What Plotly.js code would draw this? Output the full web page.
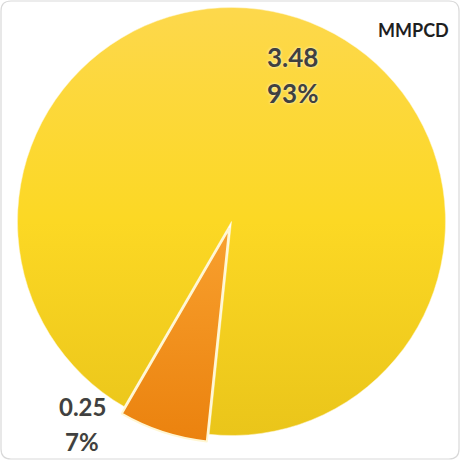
<!DOCTYPE html>
<html>
<head>
<meta charset="utf-8">
<script src="https://cdn.plot.ly/plotly-3.0.1.min.js"></script>
<style>
  html, body { margin: 0; padding: 0; background: #ffffff; }
  #chart { width: 461px; height: 461px; }
</style>
</head>
<body>
<div id="chart"></div>
<script>
// Gas volumes by stream (MMPCD)
const categories = ['Stream B', 'Stream A'];
const volumes = [0.25, 3.48];
const unitLabel = 'MMPCD';

const total = volumes.reduce((a, b) => a + b, 0);
const percents = volumes.map(v => Math.round(v / total * 100) + '%');

const labelFont = {
  family: 'Lato, "Open Sans", "Liberation Sans", sans-serif',
  size: 26,
  weight: 700,
  color: '#404040',
  shadow: '0px 0px 3px rgba(255,252,235,1)'
};
const smallFont = Object.assign({}, labelFont, {size: 24});

const trace = {
  type: 'pie',
  labels: categories,
  values: volumes,
  sort: false,
  direction: 'clockwise',
  rotation: 186,
  pull: [0.035, 0],
  textinfo: 'none',
  hoverinfo: 'none',
  showlegend: false,
  marker: {
    colors: ['#f39020', '#f9d626'],
    line: {color: '#fff6d2', width: [2, 0.5]}
  }
};

// paper coords: plot area is 443x443 starting at (10, 0)
const px = x => (x - 10) / 443;
const py = y => 1 - y / 443;

const layout = {
  width: 461,
  height: 461,
  margin: {l: 10, r: 8, t: 0, b: 18},
  paper_bgcolor: '#ffffff',
  plot_bgcolor: '#ffffff',
  showlegend: false,
  annotations: [
    {text: String(volumes[1]), x: px(292), y: py(57), font: labelFont},
    {text: percents[1], x: px(292), y: py(93), font: labelFont},
    {text: String(volumes[0]), x: px(82), y: py(406), font: smallFont},
    {text: percents[0], x: px(82), y: py(441), font: smallFont},
    {text: unitLabel, x: px(413), y: py(30),
     font: {family: 'Lato, "Open Sans", sans-serif', size: 18, weight: 700, color: '#1f1f1f'}}
  ].map(a => Object.assign({xref: 'paper', yref: 'paper', showarrow: false,
                            xanchor: 'center', yanchor: 'middle'}, a)),
  shapes: [{
    type: 'path', xref: 'paper', yref: 'paper',
    path: (() => {
      const x0 = px(1), x1 = px(459), y0 = py(459), y1 = py(1), k = 10 / 443;
      return `M ${x0 + k} ${y1} L ${x1 - k} ${y1} Q ${x1} ${y1} ${x1} ${y1 - k} ` +
             `L ${x1} ${y0 + k} Q ${x1} ${y0} ${x1 - k} ${y0} L ${x0 + k} ${y0} ` +
             `Q ${x0} ${y0} ${x0} ${y0 + k} L ${x0} ${y1 - k} Q ${x0} ${y1} ${x0 + k} ${y1} Z`;
    })(),
    line: {color: '#d9d9d9', width: 1.2},
    layer: 'below'
  }]
};

Plotly.newPlot('chart', [trace], layout, {displayModeBar: false, staticPlot: true}).then(gd => {
  // vertical gradients for the two slices
  const svg = gd.querySelector('svg.main-svg');
  const ns = 'http://www.w3.org/2000/svg';
  let defs = svg.querySelector('defs');
  if (!defs) { defs = document.createElementNS(ns, 'defs'); svg.insertBefore(defs, svg.firstChild); }
  const grads = [
    ['gradB', [[0, '#f8a02e'], [1, '#eb820e']]],
    ['gradA', [[0, '#fdd84c'], [0.5, '#fcd824'], [1, '#eac51a']]]
  ];
  grads.forEach(([id, stops]) => {
    const g = document.createElementNS(ns, 'linearGradient');
    g.setAttribute('id', id);
    g.setAttribute('x1', '0'); g.setAttribute('y1', '0');
    g.setAttribute('x2', '0'); g.setAttribute('y2', '1');
    stops.forEach(([o, c]) => {
      const s = document.createElementNS(ns, 'stop');
      s.setAttribute('offset', o);
      s.setAttribute('stop-color', c);
      g.appendChild(s);
    });
    defs.appendChild(g);
  });
  const slices = gd.querySelectorAll('g.slice path.surface');
  slices.forEach((p, i) => { p.style.fill = 'url(#' + grads[i][0] + ')'; });
});
</script>
</body>
</html>
